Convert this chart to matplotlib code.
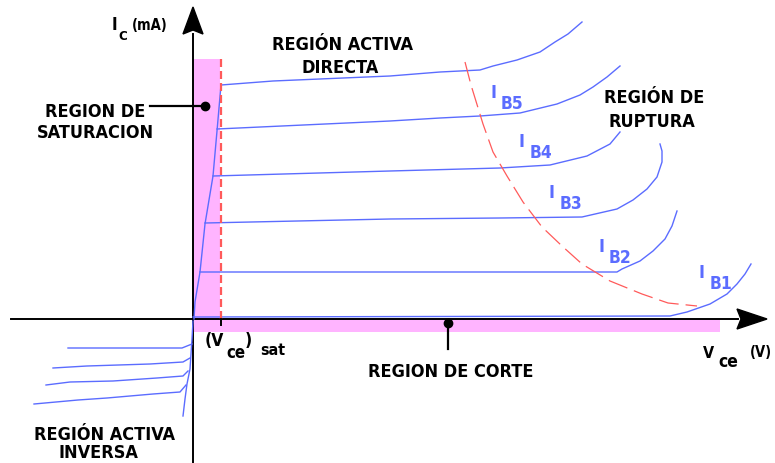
import matplotlib
matplotlib.use("Agg")
import matplotlib.pyplot as plt
from matplotlib.patches import Rectangle, Polygon
from matplotlib import font_manager

# unidades del diagrama: Vce hacia la derecha, Ic hacia arriba, origen en el cruce de ejes
BLUE = "#5b6cff"
RED = "#ff5a5a"
PINK = "#ffb4ff"

# linea de saturacion (sube desde el origen)
sat_v = [1, 2, 7, 12, 20, 24, 28]
sat_i = [0, 17, 47, 95, 143, 188, 234]

# curvas de salida Ic(Vce), de arriba a abajo
curves = [
    ([28, 80, 197, 247, 287, 300, 324, 347, 362, 375, 389],
     [234, 238, 243, 247, 249, 253, 259, 267, 277, 285, 297]),
    ([24, 197, 247, 287, 327, 364, 387, 400, 414, 427],
     [190, 198, 201, 203, 206, 215, 224, 232, 242, 253]),
    ([20, 197, 307, 357, 394, 417, 427],
     [143, 148, 151, 154, 163, 175, 187]),
    ([12, 197, 307, 389, 424, 440, 454, 464, 469, 469, 467],
     [96, 100, 101, 102, 110, 119, 130, 142, 157, 168, 175]),
    ([7, 424, 429, 447, 460, 472, 479, 484],
     [47, 47, 50, 58, 68, 80, 93, 108]),
    ([0, 477, 494, 517, 534, 544, 552, 558],
     [2, 3, 7, 15, 25, 35, 45, 55]),
]

# region activa inversa (tercer cuadrante)
inv_v = [0, -1, -3, -6, -8, -10]
inv_i = [-2, -20, -50, -65, -80, -97]
inv_curves = [
    ([-125, -11, -1], [-29, -29, -25]),
    ([-140, -106, -43, -10, -3], [-49, -47, -45, -43, -39]),
    ([-147, -123, -80, -36, -10, -5], [-66, -63, -62, -59, -57, -52]),
    ([-159, -115, -86, -40, -13, -7], [-85, -81, -79, -75, -73, -66]),
]

# limite de ruptura (rojo discontinuo)
brk_v = [272, 278, 290, 300, 314, 330, 349, 369, 389, 417, 449, 475, 504]
brk_i = [257, 234, 195, 167, 143, 117, 92, 73, 55, 38, 25, 16, 13]

vce_sat = 28
sat_top = 260
cut_end = 527
ib_labels = ["B5", "B4", "B3", "B2", "B1"]
ib_pos = [(297, 222), (326, 173), (356, 122), (405, 68), (506, 42)]

# fuente estrecha si existe, si no DejaVu normal un poco mas pequena
_fp = font_manager.FontProperties(family="DejaVu Sans", stretch="condensed", weight="bold")
_path = font_manager.findfont(_fp, fallback_to_default=True)
SCALE = 1.0 if "Condensed" in _path else 0.9

fig = plt.figure(figsize=(7.75, 4.64), dpi=100)
ax = fig.add_axes([0, 0, 1, 1])
ax.set_xlim(-193, 582)
ax.set_ylim(-144, 320)
ax.axis("off")

# zonas rosas
ax.add_patch(Rectangle((0, 0), vce_sat - 1, sat_top, color=PINK, lw=0, zorder=0))
ax.add_patch(Rectangle((0, -13), cut_end, 13, color=PINK, lw=0, zorder=0))

# ejes con flechas
ax.plot([-182, 545], [0, 0], color="black", lw=1.4, zorder=3)
ax.plot([0, 0], [-144, 285], color="black", lw=1.4, zorder=3)
ax.add_patch(Polygon([(544, 10), (548, 0), (544, -10), (574, 0)], color="black", zorder=3))
ax.add_patch(Polygon([(-10, 285), (0, 289), (10, 285), (0, 312)], color="black", zorder=3))

# curvas
ax.plot(sat_v, sat_i, color=BLUE, lw=1.0, zorder=4)
for v, i in curves:
    ax.plot(v, i, color=BLUE, lw=1.0, zorder=4)
ax.plot(inv_v, inv_i, color=BLUE, lw=1.0, zorder=4)
for v, i in inv_curves:
    ax.plot(v, i, color=BLUE, lw=1.0, zorder=4)

ax.plot([vce_sat, vce_sat], [0, sat_top], color=RED, lw=1.6, dashes=(3.6, 1.8), zorder=5)
ax.plot([vce_sat, vce_sat], [0, -6], color="black", lw=1.4, zorder=5)
ax.plot(brk_v, brk_i, color=RED, lw=0.9, dashes=(16, 5.6), zorder=5)

# flechas de anotacion con punto
ax.plot([-43, 12], [213, 213], color="black", lw=1.6, zorder=6)
ax.plot([12], [213], "o", color="black", ms=6, zorder=6)
ax.plot([255, 255], [-4, -30], color="black", lw=1.6, zorder=6)
ax.plot([255], [-4], "o", color="black", ms=6, zorder=6)


def txt(x, y, s, size=13, color="black", ha="center"):
    ax.text(x, y, s, fontsize=size * SCALE, color=color, ha=ha, va="baseline",
            family="DejaVu Sans", fontstretch="condensed", fontweight="bold", zorder=7)


txt(149, 270, "REGIÓN ACTIVA")
txt(147, 247, "DIRECTA")
txt(-98, 203, "REGION DE")
txt(-98, 182, "SATURACION")
txt(461, 217, "REGIÓN DE")
txt(459, 193, "RUPTURA")
txt(-89, -120, "REGIÓN ACTIVA")
txt(-95, -138, "INVERSA")
txt(258, -57, "REGION DE CORTE")

# etiquetas de ejes
txt(-81, 290, "I", 12, ha="left")
txt(-75, 280, "C", 9.5, ha="left")
txt(-61, 290, "(mA)", 10.5, ha="left")
txt(510, -38, "V", 11.5, ha="left")
txt(525, -47, "ce", 12.5, ha="left")
txt(557, -37, "(V)", 10.5, ha="left")
txt(12, -26, "(V", 12.5, ha="left")
txt(33, -38, "ce", 12, ha="left")
txt(52, -26, ")", 12.5, ha="left")
txt(67, -35, "sat", 11.5, ha="left")

for lab, (x, y) in zip(ib_labels, ib_pos):
    txt(x, y, "I", 13, color=BLUE, ha="left")
    txt(x + 11, y - 11, lab, 12.5, color=BLUE, ha="left")

fig.savefig("out.png", dpi=100)
